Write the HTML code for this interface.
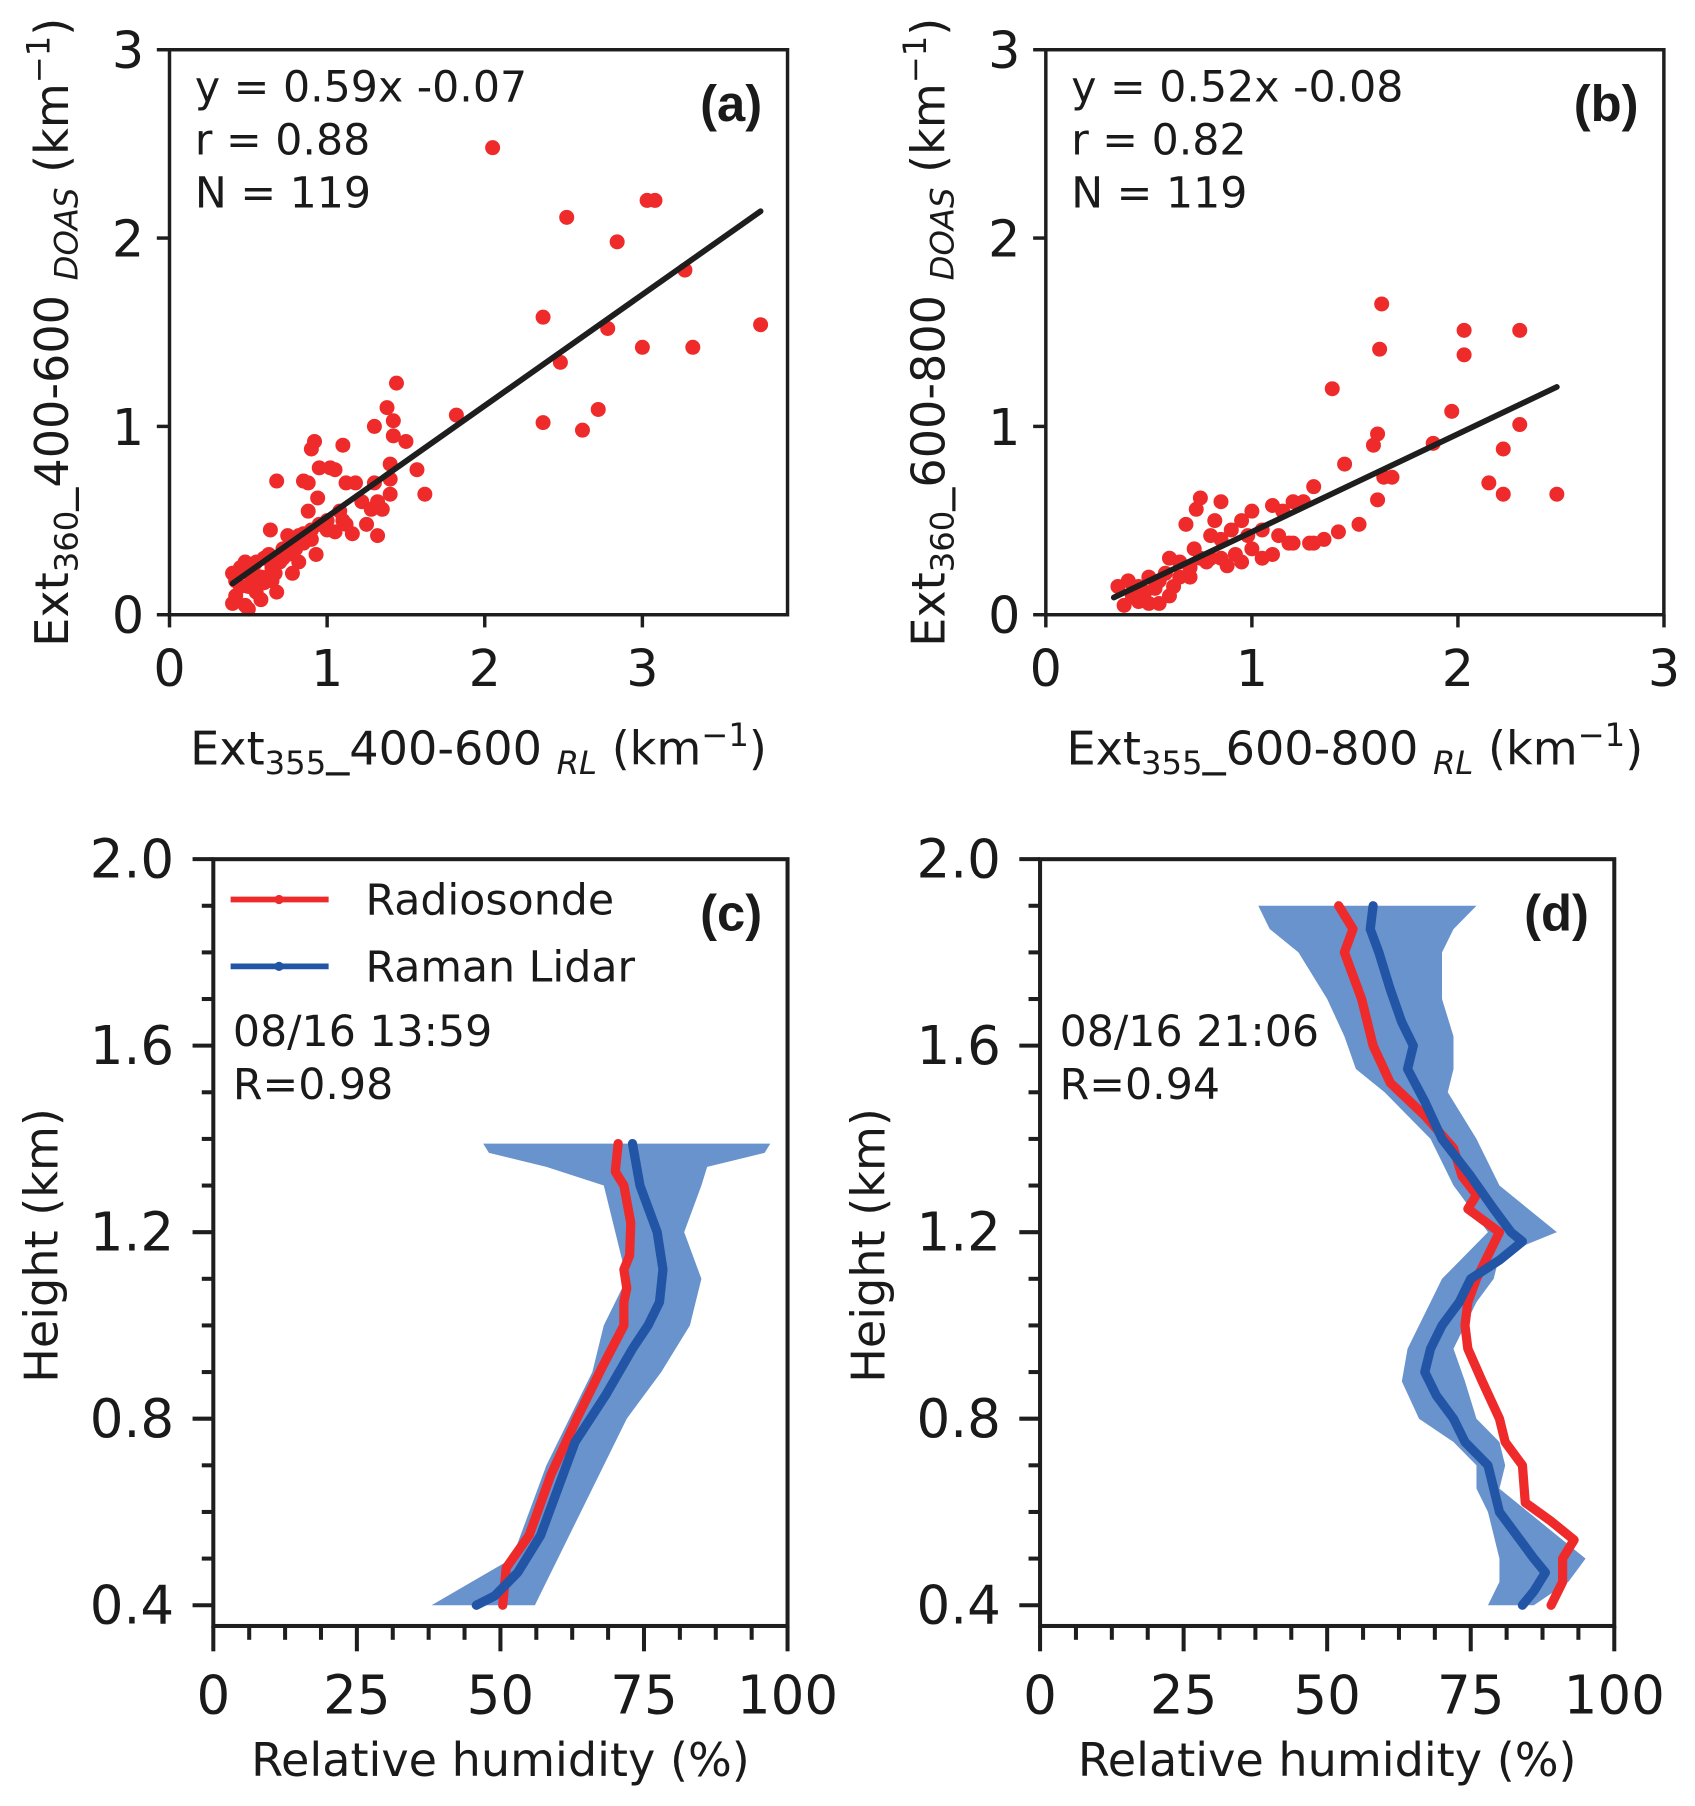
<!DOCTYPE html>
<html><head><meta charset="utf-8"><style>
html,body{margin:0;padding:0;background:#fff}
svg{display:block}
text{font-family:"DejaVu Sans","Liberation Sans",sans-serif;fill:#1a1a1a}
.tk{font-size:44px}
.tk2{font-size:46px}
.lb{font-size:40px}
.an{font-size:37px}
.pl{font-family:"Liberation Sans",sans-serif;font-size:44px;font-weight:bold}
</style></head><body>
<svg id="fig" width="1695" height="1806" viewBox="0 0 1470 1566" xmlns="http://www.w3.org/2000/svg"></svg>
<script>
// ---------- data ----------
const scatterAx=[2.05,2.52,2.84,3.03,3.08,3.27,2.37,2.78,2.48,3.0,3.32,3.75,2.37,2.62,2.72,1.82,1.44,1.38,1.42,1.3,1.42,1.5,1.57,1.62,1.1,0.92,0.9,1.4,0.95,1.02,1.05,0.68,0.85,0.88,1.12,1.18,1.3,1.4,1.4,1.22,1.28,1.35,1.32,0.94,0.88,1.1,1.12,1.25,1.32,1.0,1.05,0.95,0.82,0.75,0.64,1.16,0.9,0.85,0.8,0.93,0.72,0.82,0.6,0.55,0.65,0.7,0.58,0.5,0.45,0.4,0.42,0.5,0.55,0.6,0.67,0.78,0.68,0.58,0.48,0.4,0.42,0.5,0.62,0.72,0.45,0.53,0.63,0.55,0.48,0.65,0.75,1.0,1.08,0.9,0.85];
const scatterAy=[2.48,2.11,1.98,2.2,2.2,1.83,1.58,1.52,1.34,1.42,1.42,1.54,1.02,0.98,1.09,1.06,1.23,1.1,1.03,1.0,0.95,0.92,0.77,0.64,0.9,0.92,0.88,0.8,0.78,0.78,0.77,0.71,0.71,0.7,0.7,0.7,0.7,0.72,0.64,0.6,0.56,0.56,0.6,0.62,0.55,0.5,0.48,0.48,0.42,0.45,0.44,0.48,0.42,0.42,0.45,0.43,0.4,0.38,0.35,0.32,0.35,0.28,0.3,0.28,0.25,0.28,0.2,0.22,0.25,0.22,0.18,0.15,0.12,0.17,0.22,0.22,0.12,0.08,0.05,0.06,0.1,0.03,0.2,0.3,0.15,0.25,0.32,0.18,0.28,0.18,0.32,0.5,0.55,0.45,0.43];
const scatterBx=[1.63,1.62,2.03,2.03,2.3,1.39,1.97,1.61,1.59,1.88,2.3,2.22,1.45,1.64,1.68,1.61,2.15,2.22,2.48,1.3,1.25,1.52,1.42,1.2,1.15,1.1,0.75,0.85,0.73,0.82,0.68,0.95,0.9,0.98,1.05,1.13,1.2,1.28,1.35,1.3,1.0,1.05,0.95,0.85,0.88,0.8,0.75,0.7,0.6,0.65,0.58,0.55,0.5,0.45,0.4,0.35,0.38,0.45,0.5,0.55,0.6,0.48,0.42,0.53,0.62,0.7,0.78,0.92,0.85,1.1,1.18,0.72,0.65,0.8,1.0];
const scatterBy=[1.65,1.41,1.51,1.38,1.51,1.2,1.08,0.96,0.9,0.91,1.01,0.88,0.8,0.73,0.73,0.61,0.7,0.64,0.64,0.68,0.6,0.48,0.44,0.6,0.55,0.58,0.62,0.6,0.56,0.5,0.48,0.5,0.45,0.42,0.45,0.42,0.38,0.38,0.4,0.38,0.35,0.3,0.28,0.3,0.26,0.3,0.3,0.25,0.3,0.2,0.22,0.18,0.2,0.15,0.18,0.15,0.05,0.07,0.06,0.06,0.1,0.12,0.1,0.14,0.15,0.2,0.28,0.32,0.4,0.32,0.38,0.35,0.28,0.42,0.55];
const fitA=[0.59,-0.07,0.4,3.75];
const fitB=[0.52,-0.08,0.33,2.48];
const scatterXTicks=[0,1,2,3];
const scatterYTicks=[0,1,2,3];
const rhTicks=[0,25,50,75,100];
const hTicks=["0.4","0.8","1.2","1.6","2.0"];

const cSondeH=[1.39,1.33,1.30,1.22,1.15,1.12,1.08,1.05,1.0,0.91,0.8,0.68,0.55,0.48,0.4];
const cSondeRH=[70.5,70,71.5,72.7,72.5,71.5,72,71.5,71.5,67.7,63.3,58.8,55,51,50.4];
const cLidarH=[1.39,1.3,1.2,1.12,1.05,1.0,0.95,0.85,0.75,0.65,0.55,0.47,0.42,0.4];
const cLidarRH=[73,74.3,77.3,78.3,77.7,75.7,73,68.3,63,60,57,53,49,45.8];
const cBandH=[1.39,1.37,1.34,1.3,1.2,1.1,1.0,0.9,0.8,0.7,0.6,0.5,0.45,0.4];
const cBandLo=[47,48,58,68,70,72,68,66,62,58,55,52,45,38];
const cBandHi=[97,96,86,85,82,85,83,78,72,68,64,60,58,56];

const dSondeH=[1.9,1.85,1.8,1.7,1.6,1.52,1.45,1.38,1.32,1.28,1.25,1.2,1.15,1.1,1.05,1.0,0.95,0.88,0.8,0.75,0.7,0.62,0.58,0.54,0.5,0.45,0.4];
const dSondeRH=[52,54.5,53,56,58,61,67,72,73.5,76,74.5,80,78,76,74.5,74,74.5,77,80,81,84,84.5,89,93,91,91,89];
const dLidarH=[1.9,1.85,1.8,1.72,1.65,1.6,1.55,1.48,1.4,1.32,1.25,1.2,1.18,1.14,1.1,1.05,1.0,0.95,0.9,0.85,0.8,0.75,0.7,0.65,0.6,0.55,0.5,0.47,0.43,0.4];
const dLidarRH=[58,57.5,59,61,63,65,64,67,70,75,79,82,84,80,75,73,70,68,67,69,72,74,78,79,80,83,86,88,86,84];
const dBandH=[1.9,1.85,1.8,1.7,1.62,1.55,1.5,1.4,1.3,1.2,1.15,1.1,1.05,1.0,0.95,0.88,0.8,0.75,0.7,0.65,0.6,0.5,0.45,0.4];
const dBandLo=[38,40,45,50,53,55,60,68,72,78,74,70,68,66,64,63,66,72,76,76,78,80,80,78];
const dBandHi=[76,72,70,70,72,72,71,76,80,90,80,79,76,74,72,74,76,80,81,80,85,95,92,86];

// ---------- drawing ----------
const NS="http://www.w3.org/2000/svg";
const svg=document.getElementById('fig');
function mk(tag,attrs,parent){const e=document.createElementNS(NS,tag);for(const k in attrs)e.setAttribute(k,attrs[k]);(parent||svg).appendChild(e);return e;}
const RED="#ee2a2a",BLUE="#2355a6",BAND="#6893cd",AX="#1e1e1e";

function scatterPanel(name,L,R,T,B,xmax,xs,ys,fit,eq,r,tag,xsub,ysub){
  const g=mk('g',{});
  
  
  const sx=v=>L+v*(xmax);
  const sy=v=>B-v*(B-T)/3;
  for(let i=0;i<xs.length;i++){
    const c=mk('circle',{cx:sx(xs[i]),cy:sy(ys[i]),r:6.5,fill:RED},g);
    
    
  }
  const ln=mk('line',{x1:sx(fit[2]),y1:sy(fit[0]*fit[2]+fit[1]),x2:sx(fit[3]),y2:sy(fit[0]*fit[3]+fit[1]),stroke:AX,'stroke-width':5,'stroke-linecap':'round'},g);
  
  
  const fr=mk('rect',{x:L,y:T,width:R-L,height:B-T,fill:'none',stroke:AX,'stroke-width':3},g);
  
  
  scatterXTicks.forEach(v=>{
    mk('line',{x1:sx(v),x2:sx(v),y1:B,y2:B+11,stroke:AX,'stroke-width':3},g);
    const t=mk('text',{x:sx(v),y:B+62,'text-anchor':'middle',class:'tk'},g);t.textContent=v;
    
    
  });
  scatterYTicks.forEach(v=>{
    mk('line',{x1:L-11,x2:L,y1:sy(v),y2:sy(v),stroke:AX,'stroke-width':3},g);
    const t=mk('text',{x:L-22,y:sy(v)+16,'text-anchor':'end',class:'tk'},g);t.textContent=v;
    
    
  });
  const xl=mk('text',{x:(L+R)/2,y:B+130,'text-anchor':'middle',class:'lb'},g);
  xl.innerHTML='Ext<tspan font-size="28" dy="8">355</tspan><tspan dy="-8">_'+xsub+' </tspan><tspan font-size="28" font-style="italic" dy="8">RL</tspan><tspan dy="-8"> (km</tspan><tspan font-size="28" dy="-16">−1</tspan><tspan dy="16">)</tspan>';
  
  
  const yl=mk('text',{x:0,y:0,'text-anchor':'middle',class:'lb',transform:`translate(${L-88},${(T+B)/2}) rotate(-90)`},g);
  yl.innerHTML='Ext<tspan font-size="28" dy="8">360</tspan><tspan dy="-8">_'+ysub+' </tspan><tspan font-size="28" font-style="italic" dy="8">DOAS</tspan><tspan dy="-8"> (km</tspan><tspan font-size="28" dy="-16">−1</tspan><tspan dy="16">)</tspan>';
  
  
  [eq,r,'N = 119'].forEach((s,i)=>{
    const t=mk('text',{x:L+22,y:T+45+i*46,class:'an'},g);t.textContent=s;
    
    
  });
  const p=mk('text',{x:R-22,y:T+62,'text-anchor':'end',class:'pl'},g);p.textContent=tag;
  
  
}
scatterPanel('panel-a',147,683,43,533,136.7,scatterAx,scatterAy,fitA,'y = 0.59x -0.07','r = 0.88','(a)','400-600','400-600');
scatterPanel('panel-b',907,1443,43,533,178.7,scatterBx,scatterBy,fitB,'y = 0.52x -0.08','r = 0.82','(b)','600-800','600-800');

function profilePanel(name,L,R,tag,bH,bLo,bHi,sH,sRH,lH,lRH,time,rtxt,legend,yTitleX){
  const T=745,B=1410;
  const sx=v=>L+v*(R-L)/100;
  const sy=h=>1392-(h-0.4)*404.4;
  const g=mk('g',{});
  
  
  let pts=[];
  for(let i=0;i<bH.length;i++)pts.push(sx(bLo[i])+','+sy(bH[i]));
  for(let i=bH.length-1;i>=0;i--)pts.push(sx(bHi[i])+','+sy(bH[i]));
  const band=mk('polygon',{points:pts.join(' '),fill:BAND},g);
  
  
  const mkLine=(H,V,col,nm)=>{
    const d=H.map((h,i)=>(i?'L':'M')+sx(V[i])+','+sy(h)).join(' ');
    const p=mk('path',{d:d,fill:'none',stroke:col,'stroke-width':8,'stroke-linecap':'round','stroke-linejoin':'round'},g);
    
    
  };
  mkLine(sH,sRH,RED,'radiosonde-line');
  mkLine(lH,lRH,BLUE,'raman-lidar-line');
  const fr=mk('rect',{x:L,y:T,width:R-L,height:B-T,fill:'none',stroke:AX,'stroke-width':3.5},g);
  
  
  for(let k=0;k<=16;k++){
    const v=k*6.25,maj=k%4===0;
    mk('line',{x1:sx(v),x2:sx(v),y1:B,y2:B+(maj?22:12),stroke:AX,'stroke-width':3.5},g);
  }
  rhTicks.forEach(v=>{
    const t=mk('text',{x:sx(v),y:B+76,'text-anchor':'middle',class:'tk2'},g);t.textContent=v;
    
    
  });
  for(let k=0;k<=16;k++){
    const h=0.4+k*0.1,maj=k%4===0;
    mk('line',{x1:L-(maj?18:10),x2:L,y1:sy(h),y2:sy(h),stroke:AX,'stroke-width':3.5},g);
  }
  hTicks.forEach(s=>{
    const t=mk('text',{x:L-34,y:sy(parseFloat(s))+16,'text-anchor':'end',class:'tk2'},g);t.textContent=s;
    
    
  });
  const xl=mk('text',{x:(L+R)/2,y:B+130,'text-anchor':'middle',class:'lb'},g);xl.textContent='Relative humidity (%)';
  
  
  const yl=mk('text',{x:0,y:0,'text-anchor':'middle',class:'lb',transform:`translate(${yTitleX},1080) rotate(-90)`},g);yl.textContent='Height (km)';
  
  
  const p=mk('text',{x:R-22,y:T+62,'text-anchor':'end',class:'pl'},g);p.textContent=tag;
  
  
  const t1=mk('text',{x:L+17,y:907,class:'an'},g);t1.textContent=time;
  
  
  const t2=mk('text',{x:L+17,y:953,class:'an'},g);t2.textContent=rtxt;
  
  
  if(legend){
    [['Radiosonde',RED,780],['Raman Lidar',BLUE,838]].forEach(e=>{
      const lg=mk('g',{},g);
      
      
      mk('line',{x1:200,x2:285,y1:e[2],y2:e[2],stroke:e[1],'stroke-width':5},lg);
      mk('circle',{cx:242,cy:e[2],r:4,fill:e[1]},lg);
      const t=mk('text',{x:317,y:e[2]+13,class:'an'},lg);t.textContent=e[0];
    });
  }
}
profilePanel('panel-c',185,683,'(c)',cBandH,cBandLo,cBandHi,cSondeH,cSondeRH,cLidarH,cLidarRH,'08/16 13:59','R=0.98',true,50);
profilePanel('panel-d',902,1400,'(d)',dBandH,dBandLo,dBandHi,dSondeH,dSondeRH,dLidarH,dLidarRH,'08/16 21:06','R=0.94',false,767);
</script>
</body></html>
